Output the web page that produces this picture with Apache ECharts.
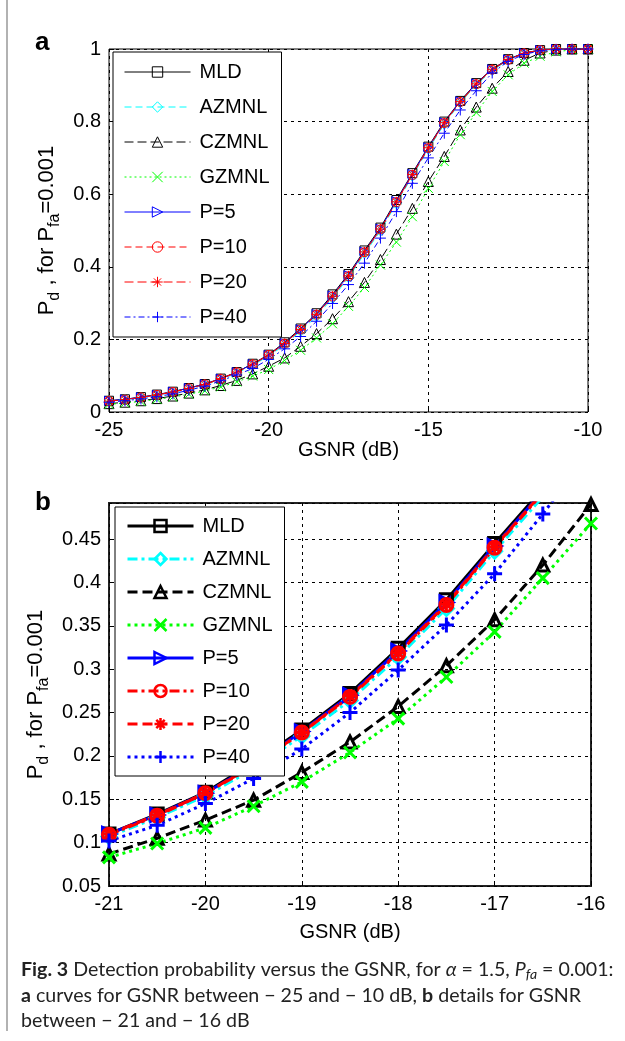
<!DOCTYPE html>
<html>
<head>
<meta charset="utf-8">
<title>Fig. 3</title>
<script src="https://cdn.jsdelivr.net/npm/echarts@6.0.0/dist/echarts.min.js"></script>
<style>
html, body { margin: 0; padding: 0; background: #fff; }
#fig { width: 625px; height: 1041px; }
</style>
</head>
<body>
<div id="fig"></div>
<script>
// GSNR (dB), step 0.5
var gsnr = [-25, -24.5, -24, -23.5, -23, -22.5, -22, -21.5, -21, -20.5, -20, -19.5, -19, -18.5, -18, -17.5, -17, -16.5, -16, -15.5, -15, -14.5, -14, -13.5, -13, -12.5, -12, -11.5, -11, -10.5, -10];

// detection probability for each detector
var mld   = [0.031, 0.035, 0.041, 0.048, 0.056, 0.066, 0.077, 0.092, 0.110, 0.133, 0.158, 0.192, 0.230, 0.272, 0.324, 0.380, 0.445, 0.508, 0.584, 0.658, 0.731, 0.800, 0.857, 0.906, 0.945, 0.972, 0.989, 0.997, 1.000, 1.000, 1.000];
var azmnl = [0.030, 0.034, 0.039, 0.046, 0.054, 0.064, 0.075, 0.090, 0.107, 0.129, 0.154, 0.185, 0.223, 0.264, 0.314, 0.370, 0.436, 0.499, 0.574, 0.650, 0.724, 0.793, 0.852, 0.901, 0.941, 0.969, 0.987, 0.996, 0.999, 1.000, 1.000];
var czmnl = [0.023, 0.027, 0.031, 0.037, 0.044, 0.052, 0.061, 0.073, 0.087, 0.105, 0.126, 0.149, 0.181, 0.216, 0.257, 0.304, 0.357, 0.420, 0.490, 0.561, 0.635, 0.704, 0.777, 0.840, 0.892, 0.938, 0.969, 0.989, 0.997, 1.000, 1.000];
var gzmnl = [0.021, 0.025, 0.029, 0.035, 0.041, 0.049, 0.058, 0.069, 0.083, 0.099, 0.117, 0.142, 0.170, 0.204, 0.243, 0.291, 0.343, 0.405, 0.468, 0.538, 0.616, 0.690, 0.764, 0.825, 0.883, 0.929, 0.961, 0.980, 0.992, 0.998, 1.000];
var p5    = [0.031, 0.035, 0.041, 0.047, 0.056, 0.066, 0.077, 0.092, 0.110, 0.132, 0.157, 0.190, 0.228, 0.270, 0.321, 0.377, 0.442, 0.505, 0.581, 0.656, 0.729, 0.798, 0.856, 0.905, 0.944, 0.971, 0.989, 0.997, 1.000, 1.000, 1.000];
var p10   = [0.030, 0.034, 0.040, 0.047, 0.055, 0.065, 0.076, 0.091, 0.109, 0.131, 0.157, 0.188, 0.227, 0.268, 0.318, 0.374, 0.440, 0.503, 0.578, 0.653, 0.727, 0.796, 0.854, 0.903, 0.943, 0.970, 0.988, 0.997, 1.000, 1.000, 1.000];
var p20   = [0.030, 0.034, 0.040, 0.047, 0.055, 0.065, 0.076, 0.092, 0.110, 0.132, 0.157, 0.189, 0.227, 0.269, 0.319, 0.375, 0.441, 0.504, 0.579, 0.654, 0.728, 0.797, 0.855, 0.904, 0.944, 0.971, 0.988, 0.997, 1.000, 1.000, 1.000];
var p40   = [0.027, 0.031, 0.036, 0.042, 0.050, 0.060, 0.071, 0.086, 0.102, 0.120, 0.145, 0.174, 0.208, 0.250, 0.299, 0.351, 0.410, 0.479, 0.552, 0.630, 0.700, 0.768, 0.832, 0.885, 0.934, 0.966, 0.985, 0.995, 0.999, 1.000, 1.000];

var names = ['MLD', 'AZMNL', 'CZMNL', 'GZMNL', 'P=5', 'P=10', 'P=20', 'P=40'];
var values = [mld, azmnl, czmnl, gzmnl, p5, p10, p20, p40];

// panel b range
var zoomMin = -21, zoomMax = -16;

// look
var FONT = 'Liberation Sans';
var colors = ['#000000', '#00ffff', '#000000', '#00ff00', '#0000ff', '#ff0000', '#ff0000', '#0000ff'];
var symbols = [
    'rect',
    'diamond',
    'triangle',
    'path://M0,0L10,10M10,0L0,10',
    'path://M0,0L10,5L0,10Z',
    'circle',
    'path://M5,0L5,10M0,5L10,5M1.5,1.5L8.5,8.5M8.5,1.5L1.5,8.5',
    'path://M5,0L5,10M0,5L10,5'
];
var dashA = ['solid', [7, 4], [9, 4], [2, 3], 'solid', [7, 4], [9, 4], [6, 3, 2, 3]];
var dashB = ['solid', [10, 4, 3, 4], [10, 5], [3, 4], 'solid', [10, 4, 3, 4], [10, 5], [3, 4]];
var sizeA = [9, 10, 10, 9, 9, 9, 10, 11];
var sizeB = [12, 14, 12, 12, 13, 13, 14, 15];

function pairs(v, lo, hi) {
    var out = [];
    for (var i = 0; i < gsnr.length; i++) {
        if (gsnr[i] >= lo && gsnr[i] <= hi) out.push([gsnr[i], v[i]]);
    }
    return out;
}

var series = [];
names.forEach(function (n, i) {
    series.push({
        name: n, type: 'line', xAxisIndex: 0, yAxisIndex: 0,
        data: pairs(values[i], -25, -10),
        symbol: symbols[i], symbolSize: sizeA[i], showAllSymbol: true,
        lineStyle: { color: colors[i], width: 1, type: dashA[i] },
        itemStyle: { color: 'rgba(0,0,0,0)', borderColor: colors[i], borderWidth: 1 },
        silent: true, emphasis: { disabled: true }
    });
});
names.forEach(function (n, i) {
    series.push({
        name: 'b:' + n, type: 'line', xAxisIndex: 1, yAxisIndex: 1,
        data: pairs(values[i], zoomMin, zoomMax),
        symbol: symbols[i], symbolSize: sizeB[i], showAllSymbol: true,
        lineStyle: { color: colors[i], width: 3, type: dashB[i] },
        itemStyle: { color: 'rgba(0,0,0,0)', borderColor: colors[i], borderWidth: 3 },
        silent: true, emphasis: { disabled: true }
    });
});

var yName = '{m|P}{s|d}{m| , for P}{s|fa}{m|=0.001}';
var yNameStyle = {
    color: '#000', fontFamily: FONT, fontSize: 22,
    rich: {
        m: { fontFamily: FONT, fontSize: 22, lineHeight: 32, color: '#000' },
        s: { fontFamily: FONT, fontSize: 16, lineHeight: 16, padding: [14, 0, 0, 0], color: '#000' }
    }
};
var labelStyle = { color: '#000', fontFamily: FONT, fontSize: 20, margin: 8 };
var gridLine = { show: true, lineStyle: { color: '#000', width: 1, type: [3, 4] } };
var tick = { inside: true, length: 5, lineStyle: { color: '#000' } };

var legendText = { color: '#000', fontFamily: FONT, fontSize: 20, padding: [0, 0, 0, 4] };

var myChart = echarts.init(document.getElementById('fig'), null, { renderer: 'canvas' });
var option = {
    animation: false,
    backgroundColor: '#fff',
    grid: [
        { left: 109, top: 49, width: 479, height: 363, show: true, borderColor: '#000', borderWidth: 1 },
        { left: 109, top: 503, width: 482, height: 383, show: true, borderColor: '#222', borderWidth: 2 }
    ],
    xAxis: [
        {
            gridIndex: 0, type: 'value', min: -25, max: -10, interval: 5,
            axisLine: { show: false }, axisTick: tick, axisLabel: labelStyle, splitLine: gridLine,
            name: 'GSNR (dB)', nameLocation: 'middle', nameGap: 21,
            nameTextStyle: { color: '#000', fontFamily: FONT, fontSize: 20, verticalAlign: 'top' }
        },
        {
            gridIndex: 1, type: 'value', min: zoomMin, max: zoomMax, interval: 1,
            axisLine: { show: false }, axisTick: tick, axisLabel: labelStyle, splitLine: gridLine,
            name: 'GSNR (dB)', nameLocation: 'middle', nameGap: 36,
            nameTextStyle: { color: '#000', fontFamily: FONT, fontSize: 20, verticalAlign: 'top' }
        }
    ],
    yAxis: [
        {
            gridIndex: 0, type: 'value', min: 0, max: 1, interval: 0.2,
            axisLine: { show: false }, axisTick: tick, axisLabel: labelStyle, splitLine: gridLine,
            name: yName, nameLocation: 'middle', nameGap: 42, nameTextStyle: yNameStyle
        },
        {
            gridIndex: 1, type: 'value', min: 0.05, max: 0.4916, interval: 0.05,
            axisLine: { show: false }, axisTick: tick,
            axisLabel: { color: '#000', fontFamily: FONT, fontSize: 20, margin: 8, showMaxLabel: false },
            splitLine: gridLine,
            name: yName, nameLocation: 'middle', nameGap: 42, nameTextStyle: yNameStyle
        }
    ],
    legend: [
        {
            orient: 'vertical', left: 113, top: 52, selectedMode: false,
            itemWidth: 66, itemHeight: 13, itemGap: 15, padding: [10, 12, 10, 11],
            backgroundColor: '#fff', borderColor: '#000', borderWidth: 1, borderRadius: 0,
            textStyle: legendText, itemStyle: { borderWidth: 1 }, lineStyle: { width: 1 },
            data: names
        },
        {
            orient: 'vertical', left: 115, top: 507, selectedMode: false,
            itemWidth: 66, itemHeight: 15, itemGap: 13, padding: [9, 12, 9, 11],
            backgroundColor: '#fff', borderColor: '#000', borderWidth: 1, borderRadius: 0,
            textStyle: legendText, itemStyle: { borderWidth: 2.5 }, lineStyle: { width: 3 },
            data: names.map(function (n) { return 'b:' + n; }),
            formatter: function (n) { return n.replace('b:', ''); }
        }
    ],
    graphic: [
        { type: 'line', shape: { x1: 7, y1: 0, x2: 7, y2: 1031 }, style: { stroke: '#999', lineWidth: 1.5 } },
        { type: 'text', x: 35, y: 43, style: { text: 'a', font: 'bold 26px "Liberation Sans"', fill: '#000', verticalAlign: 'middle' } },
        { type: 'text', x: 35, y: 503, style: { text: 'b', font: 'bold 26px "Liberation Sans"', fill: '#000', verticalAlign: 'middle' } },
        {
            type: 'text', x: 21, y: 957,
            style: {
                text: '{b|Fig. 3} Detection probability versus the GSNR, for {i|\u03b1} = 1.5, {i|P}{s|fa} = 0.001:\n' +
                      '{b|a} curves for GSNR between \u2212 25 and \u2212 10 dB, {b|b} details for GSNR\n' +
                      'between \u2212 21 and \u2212 16 dB',
                fontFamily: 'Lato', fontSize: 19.6, lineHeight: 25.5, fill: '#222', verticalAlign: 'top',
                rich: {
                    b: { fontFamily: 'Lato', fontSize: 19.6, fontWeight: 'bold', lineHeight: 25.5, fill: '#222' },
                    i: { fontFamily: 'Lato', fontSize: 19.6, fontStyle: 'italic', lineHeight: 25.5, fill: '#222' },
                    s: { fontFamily: 'Lato', fontSize: 14, fontStyle: 'italic', lineHeight: 14, padding: [10, 0, 0, 0], fill: '#222' }
                }
            }
        }
    ],
    series: series
};
myChart.setOption(option);
</script>
</body>
</html>
